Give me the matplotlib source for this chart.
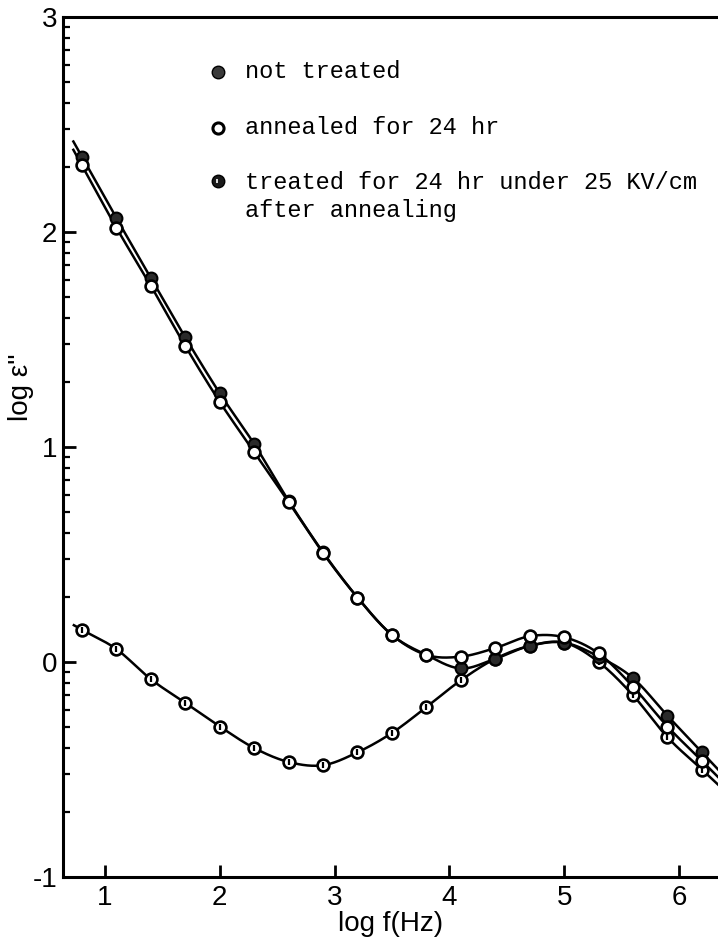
import numpy as np
import matplotlib
matplotlib.use("Agg")
import matplotlib.pyplot as plt
from matplotlib.ticker import FixedLocator

plt.rcParams["axes.unicode_minus"] = False

# data: log f (Hz) vs log eps''
log_f = [0.8, 1.1, 1.4, 1.7, 2.0, 2.3, 2.6, 2.9, 3.2, 3.5,
         3.8, 4.1, 4.4, 4.7, 5.0, 5.3, 5.6, 5.9, 6.2]
not_treated = [2.35, 2.065, 1.786, 1.51, 1.25, 1.014, 0.75, 0.51, 0.30, 0.126,
               0.033, -0.03, 0.015, 0.075, 0.09, 0.025, -0.075, -0.25, -0.42]
annealed = [2.31, 2.02, 1.75, 1.47, 1.21, 0.977, 0.744, 0.507, 0.30, 0.126,
            0.033, 0.025, 0.065, 0.12, 0.115, 0.04, -0.115, -0.30, -0.46]
treated = [0.15, 0.06, -0.08, -0.19, -0.30, -0.40, -0.465, -0.48, -0.42, -0.33,
           -0.21, -0.085, 0.015, 0.075, 0.09, 0.0, -0.155, -0.35, -0.50]

labels = ["not treated", "annealed for 24 hr",
          "treated for 24 hr under 25 KV/cm", "after annealing"]


def smooth(x, y, n=24, x_lo=0.72, x_hi=6.45):
    """Catmull-Rom curve through the points, ends continued straight."""
    x = np.asarray(x, float)
    y = np.asarray(y, float)
    px = np.concatenate([[2 * x[0] - x[1]], x, [2 * x[-1] - x[-2]]])
    py = np.concatenate([[2 * y[0] - y[1]], y, [2 * y[-1] - y[-2]]])
    t = np.linspace(0, 1, n, endpoint=False)
    xs, ys = [], []
    for i in range(1, len(px) - 2):
        for p, out in ((px, xs), (py, ys)):
            p0, p1, p2, p3 = p[i - 1], p[i], p[i + 1], p[i + 2]
            out.append(0.5 * (2 * p1 + (-p0 + p2) * t
                              + (2 * p0 - 5 * p1 + 4 * p2 - p3) * t ** 2
                              + (-p0 + 3 * p1 - 3 * p2 + p3) * t ** 3))
    xs = np.concatenate(xs + [[x[-1]]])
    ys = np.concatenate(ys + [[y[-1]]])
    s0 = (y[1] - y[0]) / (x[1] - x[0])
    s1 = (y[-1] - y[-2]) / (x[-1] - x[-2])
    xs = np.concatenate([[x_lo], xs, [x_hi]])
    ys = np.concatenate([[y[0] + s0 * (x_lo - x[0])], ys, [y[-1] + s1 * (x_hi - x[-1])]])
    return xs, ys


fig = plt.figure(figsize=(7.18, 9.44), dpi=100)
ax = fig.add_axes([63 / 718, 67 / 944, 655 / 718, 860 / 944])

LW = 1.8
MS = 8.5
for ys in (not_treated, annealed, treated):
    sx, sy = smooth(log_f, ys)
    ax.plot(sx, sy, color="black", lw=LW, solid_capstyle="butt")

ax.plot(log_f, treated, "o", ms=MS, mfc="white", mec="black", mew=1.9)
ax.plot(log_f, treated, "|", ms=4.5, mec="black", mew=1.6)
ax.plot(log_f, not_treated, "o", ms=MS, mfc="#2a2a2a", mec="black", mew=1.5)
ax.plot(log_f, annealed, "o", ms=MS, mfc="white", mec="black", mew=1.9)

# legend written into the plot
mono = "Liberation Mono"
lx, tx = 0.2366, 0.278
ax.plot(lx, 0.936, "o", ms=9, mfc="#3a3a3a", mec="black", transform=ax.transAxes, clip_on=False)
ax.plot(lx, 0.871, "o", ms=8, mfc="white", mec="black", mew=2.2, transform=ax.transAxes)
ax.plot(lx, 0.809, "o", ms=9, mfc="#1a1a1a", mec="black", transform=ax.transAxes)
ax.plot(lx - 0.002, 0.809, "|", ms=3, mec="white", mew=1.2, transform=ax.transAxes)
for yy, txt in zip([0.937, 0.872, 0.808, 0.775], labels):
    ax.text(tx, yy, txt, transform=ax.transAxes, family=mono, fontsize=17, va="center")

ax.set_xlim(0.635, 6.34)
ax.set_ylim(-1, 3)

for side in ("left", "bottom", "top"):
    ax.spines[side].set_linewidth(2.2)
ax.spines["right"].set_visible(False)

ax.set_xticks([1, 2, 3, 4, 5, 6])
ax.set_yticks([-1, 0, 1, 2, 3])
minor_y = [d + np.log10(k) for d in (-1, 0, 1, 2) for k in range(2, 10)]
ax.yaxis.set_minor_locator(FixedLocator(minor_y))
ax.tick_params(which="major", direction="in", length=9, width=2, labelsize=20, pad=6)
ax.tick_params(which="minor", direction="in", length=5, width=1.6)
ax.tick_params(axis="x", which="minor", bottom=False)
ax.tick_params(axis="y", pad=4)
for lab in ax.get_xticklabels() + ax.get_yticklabels():
    lab.set_family("Liberation Sans")

ax.set_xlabel("log f(Hz)", fontsize=20, family="Liberation Sans", labelpad=0)
ax.set_ylabel("log ε''", fontsize=20, family=["Liberation Sans", "DejaVu Sans"])
ax.yaxis.set_label_coords(-0.045, 0.57)

fig.savefig("out.png", dpi=100)
